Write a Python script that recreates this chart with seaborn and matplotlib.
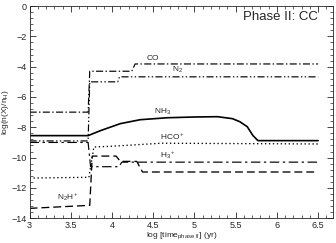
import numpy as np
import pandas as pd
import matplotlib
matplotlib.use("Agg")
import matplotlib.pyplot as plt
import seaborn as sns
from matplotlib.ticker import MultipleLocator

# abundances: log time (yr) vs log(n(X)/nH)
t_co = [3.0, 3.71, 3.73, 4.24, 4.28, 6.5]
co = [-7.0, -7.0, -4.3, -4.3, -3.82, -3.82]

t_n2 = [3.0, 3.71, 3.73, 4.07, 4.09, 6.5]
n2 = [-8.9, -8.9, -5.0, -5.0, -4.67, -4.67]

t_nh3 = [3.0, 3.71, 3.86, 4.10, 4.34, 4.67, 5.0, 5.28, 5.46, 5.55, 5.64, 5.71, 5.77, 6.5]
nh3 = [-8.55, -8.55, -8.22, -7.76, -7.50, -7.37, -7.32, -7.30, -7.43, -7.63, -7.96, -8.55, -8.88, -8.88]

t_hco = [3.0, 3.72, 3.78, 4.0, 4.6, 6.5]
hco = [-11.35, -11.3, -9.3, -9.25, -9.05, -9.1]

t_h3 = [3.0, 3.71, 3.74, 4.08, 4.12, 6.5]
h3 = [-9.0, -9.0, -10.6, -10.6, -10.3, -10.3]

t_n2h = [3.0, 3.73, 3.76, 4.05, 4.10, 4.30, 4.37, 6.5]
n2h = [-13.35, -13.15, -9.9, -9.9, -10.25, -10.25, -10.95, -10.95]

labels = ["CO", "N$_2$", "NH$_3$", "HCO$^+$", "H$_3$$^+$", "N$_2$H$^+$"]
label_x = [4.50, 4.80, 4.61, 4.73, 4.68, 3.47]
label_y = [-3.49, -4.21, -6.97, -8.62, -9.87, -12.63]

sns.set_style("ticks")
plt.rcParams['font.family'] = ['Liberation Sans', 'DejaVu Sans']
plt.rcParams['mathtext.fontset'] = 'custom'
plt.rcParams['mathtext.rm'] = 'Liberation Sans'
plt.rcParams['mathtext.it'] = 'Liberation Sans'

fig = plt.figure(figsize=(3.36, 2.43), dpi=100)
ax = fig.add_axes([0.088, 0.102, 0.903, 0.873])

series = [
    (t_co, co, (0, (6, 2, 1.2, 2)), 0.85),
    (t_n2, n2, (0, (6, 2, 1.2, 2, 1.2, 2)), 0.85),
    (t_nh3, nh3, "-", 1.2),
    (t_hco, hco, (0, (1, 2)), 0.95),
    (t_h3, h3, (0, (8, 3, 2, 3)), 0.85),
    (t_n2h, n2h, (0, (6, 3)), 0.95),
]
for t, y, ls, lw in series:
    sns.lineplot(x=t, y=y, ax=ax, color="black", linestyle=ls, linewidth=lw,
                 estimator=None, sort=False)

for lab, x, y in zip(labels, label_x, label_y):
    ax.text(x, y, lab, fontsize=6, ha="center", va="center")

ax.text(6.5, -0.72, "Phase II: CC", fontsize=9.5, ha="right", va="center")

ax.set_xlim(3, 6.68)
ax.set_ylim(-14, 0)
ax.xaxis.set_minor_locator(MultipleLocator(0.1))
ax.yaxis.set_major_locator(MultipleLocator(2))
ax.yaxis.set_minor_locator(MultipleLocator(0.4))
ax.tick_params(which="both", direction="in", top=True, right=True, labelsize=6.5, pad=2)
ax.tick_params(which="major", length=4, width=0.6)
ax.tick_params(which="minor", length=2, width=0.5)
ax.set_xticks([3, 3.5, 4, 4.5, 5, 5.5, 6, 6.5])
ax.set_xticklabels(["3", "3.5", "4", "4.5", "5", "5.5", "6", "6.5"])
for s in ax.spines.values():
    s.set_linewidth(0.6)

ax.set_xlabel("log [time$_{\\rm phase\\ II}$] (yr)", fontsize=6, labelpad=0.5)
ax.set_ylabel("log(n(X)/n$_{\\rm H}$)", fontsize=6, labelpad=0.5)

fig.savefig("out.png", dpi=100)
